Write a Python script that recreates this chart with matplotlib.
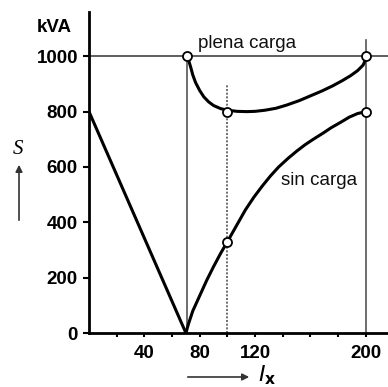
import matplotlib
matplotlib.use("Agg")
import matplotlib.pyplot as plt

plt.rcParams['font.family'] = ['Liberation Sans', 'DejaVu Sans']

# datos
v_ix = [0, 70]
v_s = [800, 0]

sin_ix = [70, 72, 75, 80, 85, 90, 95, 100, 107, 113, 119, 125, 131, 137, 144, 150,
          156, 162, 169, 175, 182, 188, 194, 200]
sin_s = [0, 35, 80, 135, 190, 240, 287, 330, 392, 445, 490, 530, 567, 600, 632, 657,
         680, 700, 722, 742, 762, 780, 793, 800]

plena_ix = [71, 72, 73.5, 75, 77, 80, 83, 86.5, 90, 95, 100, 107, 114, 120, 127, 135,
            143, 152, 160, 168, 176, 183, 189, 194, 198, 200]
plena_s = [1000, 985, 960, 932, 905, 876, 853, 835, 822, 811, 805, 801, 800, 801, 805, 812,
           824, 840, 857, 874, 893, 912, 930, 948, 968, 990]

punto_ix = [71, 100, 200, 200, 100]
punto_s = [1000, 800, 1000, 800, 330]

x_ticks = [20, 40, 60, 80, 100, 120, 140, 160, 180, 200]
x_labels = ["", "40", "", "80", "", "120", "", "", "", "200"]
y_ticks = [0, 200, 400, 600, 800, 1000]

fig = plt.figure(figsize=(3.88, 3.87), dpi=100)
ax = fig.add_axes([89 / 388, 54 / 387, 299 / 388, 321 / 387])
ax.set_xlim(0, 216)
ax.set_ylim(0, 1160)

# lineas de referencia
ax.axhline(1000, color="#333333", lw=1.1, zorder=1)
ax.plot([71, 71], [0, 1000], color="#555555", lw=1.2, zorder=1)
ax.plot([200, 200], [0, 1060], color="#555555", lw=1.2, zorder=1)
ax.plot([100, 100], [0, 900], color="#555555", lw=1.2, ls=(0, (1.2, 1)), zorder=1)

ax.plot(v_ix, v_s, color="black", lw=2.2, zorder=2)
ax.plot(sin_ix, sin_s, color="black", lw=2.2, zorder=2, solid_joinstyle="round")
ax.plot(plena_ix, plena_s, color="black", lw=2.2, zorder=2, solid_joinstyle="round")
ax.plot(punto_ix, punto_s, ls="none", marker="o", ms=6.5, mfc="white", mec="black", mew=1.3, zorder=3)

ax.text(78.5, 1029, "plena carga", fontsize=13.5, va="baseline", color="#111111")
ax.text(138.5, 534, "sin carga", fontsize=13.5, va="baseline", color="#111111")

for s in ["top", "right"]:
    ax.spines[s].set_visible(False)
ax.spines["left"].set_linewidth(2)
ax.spines["bottom"].set_linewidth(2)

ax.set_yticks(y_ticks)
ax.set_xticks(x_ticks)
ax.set_xticklabels(x_labels)
ax.tick_params(axis="y", length=4, width=1.5, pad=4, labelsize=13.5)
ax.tick_params(axis="x", length=3, width=1.5, pad=6, labelsize=13.5)
for lab in ax.get_xticklabels() + ax.get_yticklabels():
    lab.set_fontweight("bold")

fig.text(37 / 388, 1 - 32 / 387, "kVA", fontsize=13.5, fontweight="bold", va="baseline")
fig.text(18 / 388, 1 - 150 / 387, "S", fontsize=15, family="Liberation Serif", style="italic",
         ha="center", va="center")
ax.annotate("", xy=(19, 225), xytext=(19, 164), xycoords="figure pixels", textcoords="figure pixels",
            arrowprops=dict(arrowstyle="-|>", color="#333333", lw=1.2, mutation_scale=10))
ax.annotate("", xy=(252, 10), xytext=(185, 10), xycoords="figure pixels", textcoords="figure pixels",
            arrowprops=dict(arrowstyle="-|>", color="#333333", lw=1.2, mutation_scale=10))
fig.text(258 / 388, 6 / 387, r"$I_\mathbf{x}$", fontsize=16, va="baseline")

fig.savefig("out.png", dpi=100)
